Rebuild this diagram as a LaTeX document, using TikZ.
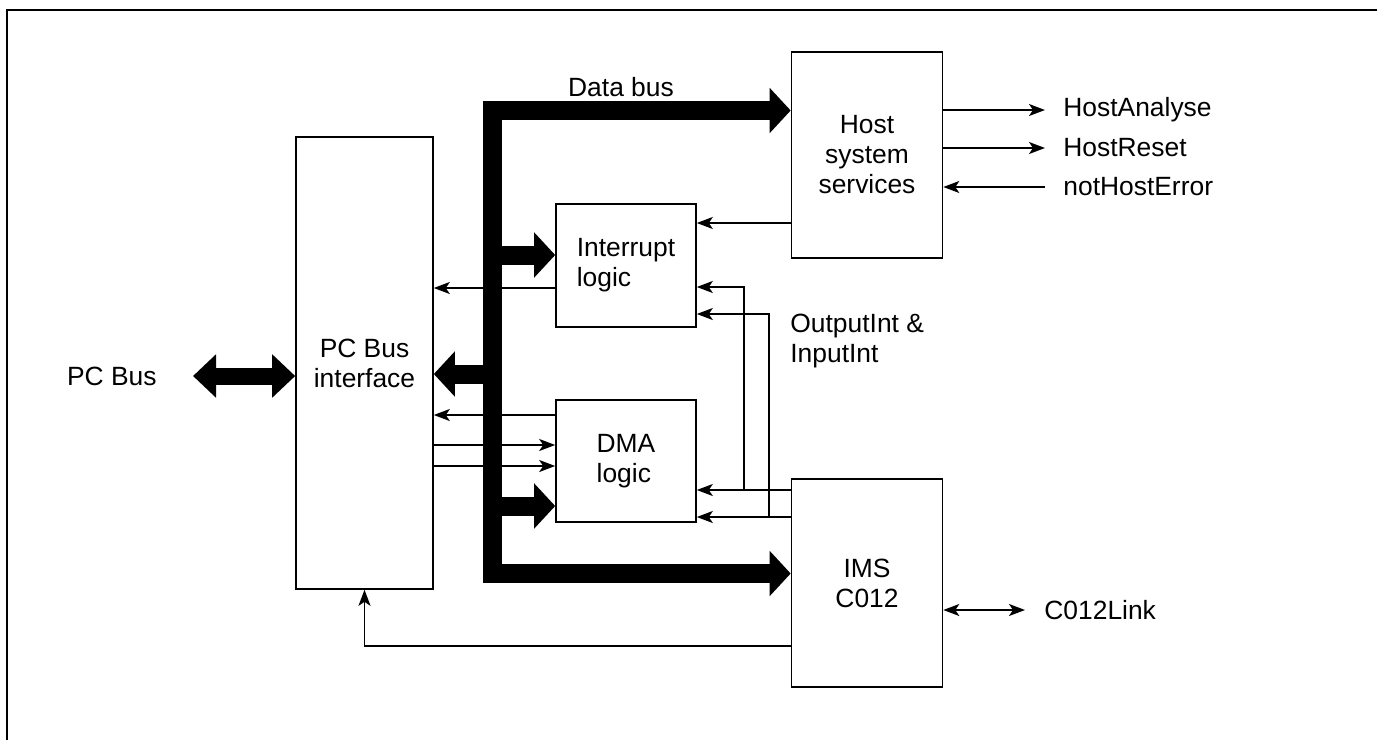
\documentclass[tikz,border=0pt]{standalone}
\usepackage{fontspec}
\setmainfont{Liberation Sans}
\usetikzlibrary{arrows.meta, positioning, calc}

\begin{document}
\begin{tikzpicture}[x=0.5pt, y=-0.5pt,
		>={Stealth[length=8pt,width=6pt,inset=2pt]},
		every node/.style={font=\fontsize{13.2}{15}\selectfont},
		blk/.style={draw, line width=0.8pt, inner sep=0pt, align=center},
		lbl/.style={inner sep=0pt, align=left},
		sig/.style={line width=0.8pt, ->},
		bus/.style={line width=9.5pt, line join=miter, -{Triangle[length=10.5pt,width=22pt]}},
		wide/.style={line width=8.5pt, {Triangle[length=11.5pt,width=21pt]}-{Triangle[length=11.5pt,width=21pt]}}]
		
		\useasboundingbox (0,0) rectangle (1377,740);
		
		% Frame
		\draw[line width=1pt] (7,740) -- (7,10) -- (1377,10);
		
		% Blocks
		\node[blk, minimum width=68.5pt, minimum height=226pt] (pcbi) at (364.5,363) {PC Bus\\interface};
		\node[blk, align=left, minimum width=70pt, minimum height=61.5pt] (irq) at (626,265.5) {Interrupt\\logic};
		\node[blk, align=left, minimum width=70pt, minimum height=61pt] (dma) at (626,461) {DMA\\logic};
		\node[blk, minimum width=75.5pt, minimum height=103pt] (host) at (867,155) {Host\\system\\services};
		\node[blk, minimum width=75.5pt, minimum height=104pt] (ims) at (867,583) {IMS\\C012};
		
		% Labels
		\node (dbus) at (621,87) {Data bus};
		\node[lbl, anchor=east, inner xsep=18pt] (pcbus) at (193,376) {PC Bus};
		\node[lbl, anchor=west] (oint) at (790,341) {OutputInt \&\\InputInt};
		\node[lbl, anchor=west, inner xsep=9pt] (hana) at (1045,110) {HostAnalyse};
		\node[lbl, anchor=west, inner xsep=9pt] (hrst) at (1045,148) {HostReset};
		\node[lbl, anchor=west, inner xsep=9pt] (herr) at (1045,187) {notHostError};
		\node[lbl, anchor=west, inner xsep=9.5pt] (link) at (1025,610) {C012Link};
		
		% Control lines
		\draw[sig] (host.west |- 0,223) -- (irq.east |- 0,223);
		\draw[sig] (irq.west |- 0,288) -- (pcbi.east |- 0,288);
		\draw[sig] (dma.west |- 0,415) -- (pcbi.east |- 0,415);
		\draw[sig] (pcbi.east |- 0,445) -- (dma.west |- 0,445);
		\draw[sig] (pcbi.east |- 0,466) -- (dma.west |- 0,466);
		\draw[sig] (ims.west |- 0,490) -- (dma.east |- 0,490);
		\draw[sig] (ims.west |- 0,517) -- (dma.east |- 0,517);
		\coordinate (br1) at (744,490);
		\coordinate (br2) at (769,517);
		\draw[sig] (br1) |- (irq.east |- 0,287);
		\draw[sig] (br2) |- (irq.east |- 0,314);
		\draw[sig] (ims.west |- 0,646) -| (pcbi.south);
		
		% Host and link signals
		\draw[sig] (host.east |- hana) -- (hana.west);
		\draw[sig] (host.east |- hrst) -- (hrst.west);
		\draw[sig] (herr.west) -- (host.east |- herr);
		\draw[sig, <->] (ims.east |- link) -- (link.west);
		
		% Data bus
		\coordinate (bustop) at (492.5,110.5);
		\coordinate (busbot) at (492.5,573.5);
		\draw[bus, {Triangle[length=10.5pt,width=22pt]}-{Triangle[length=10.5pt,width=22pt]}] (bustop -| host.west) -- (bustop) -- (busbot) -- (busbot -| ims.west);
		\draw[bus] (bustop |- 0,255) -- (irq.west |- 0,255);
		\draw[bus] (bustop |- 0,506) -- (dma.west |- 0,506);
		\draw[bus] (bustop |- 0,374) -- (pcbi.east |- 0,374);
		\draw[wide] (pcbus.east) -- (pcbi.west |- pcbus);
		
	\end{tikzpicture}
\end{document}
